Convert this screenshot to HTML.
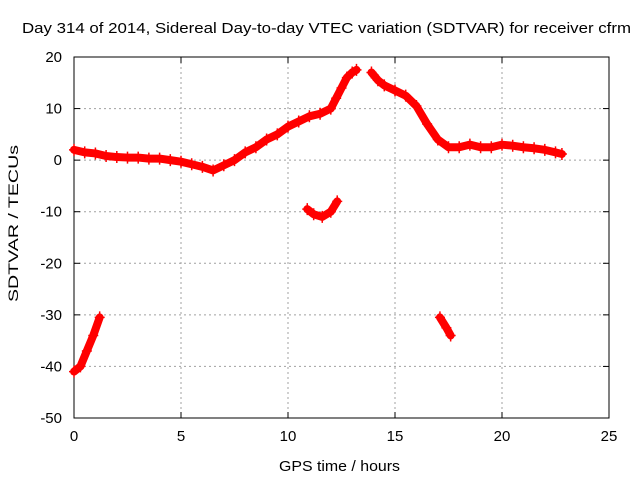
<!DOCTYPE html>
<html><head><meta charset="utf-8"><style>
body{margin:0;background:#fff}
text{font-family:"Liberation Sans",sans-serif;font-size:15px;fill:#000}
</style></head><body>
<svg id="chart" width="640" height="480" viewBox="0 0 640 480">
<rect width="640" height="480" fill="#fff"/>
<text x="22" y="33" textLength="609" lengthAdjust="spacingAndGlyphs">Day 314 of 2014, Sidereal Day-to-day VTEC variation (SDTVAR) for receiver cfrm</text>
<g id="grid"></g>
<g id="axes"></g>
<g id="series"></g>
<text x="279" y="471" textLength="121" lengthAdjust="spacingAndGlyphs">GPS time / hours</text>
<text style="font-size:14px" transform="translate(18,302) rotate(-90)" textLength="157" lengthAdjust="spacingAndGlyphs">SDTVAR / TECUs</text>
</svg>
<script>
const xTicks=[0,5,10,15,20,25];
const yTicks=[20,10,0,-10,-20,-30,-40,-50];
const mainHours=[0,0.5,1,1.5,2,2.5,3,3.5,4,4.5,5,5.5,6,6.5,7,7.5,8,8.5,9,9.5,10,10.5,11,11.5,12,12.25,12.5,12.75,13,13.2];
const mainValues=[2,1.5,1.3,0.8,0.6,0.5,0.5,0.3,0.3,0,-0.3,-0.8,-1.3,-2,-1,0,1.5,2.5,4,5,6.5,7.5,8.5,9,10,12,14,16,17,17.5];
const lateHours=[13.9,14.2,14.5,15,15.5,16,16.5,17,17.5,18,18.5,19,19.5,20,20.5,21,21.5,22,22.5,22.8];
const lateValues=[17,15.5,14.5,13.5,12.5,10.5,7,4,2.5,2.5,3,2.5,2.5,3,2.8,2.5,2.3,2,1.5,1.2];
const midHours=[10.9,11.2,11.6,12,12.3];
const midValues=[-9.5,-10.5,-11,-10,-8];
const earlyHours=[0,0.3,0.6,0.9,1.2];
const earlyValues=[-41,-40,-37,-34,-30.5];
const dipHours=[17.1,17.4,17.6];
const dipValues=[-30.5,-32.5,-34];
const L=74,R=609,T=57,B=418;
const sx=h=>L+(h/25)*(R-L);
const sy=v=>T+(20-v)/70*(B-T);
const NS='http://www.w3.org/2000/svg';
function mk(tag,attrs,parent){const e=document.createElementNS(NS,tag);for(const k in attrs)e.setAttribute(k,attrs[k]);parent.appendChild(e);return e;}
const grid=document.getElementById('grid'),axes=document.getElementById('axes'),ser=document.getElementById('series');
xTicks.forEach(t=>{const x=sx(t);
 if(t>0&&t<25){const g=mk('line',{x1:x,x2:x,y1:T,y2:B,stroke:'#a0a0a0','stroke-dasharray':'2,3'},grid);
 
 }
 const tx=mk('text',{x:x,y:B+23,'text-anchor':'middle'},axes);tx.textContent=t;
 
 
 mk('line',{x1:x,x2:x,y1:B,y2:B-6,stroke:'#000'},axes);mk('line',{x1:x,x2:x,y1:T,y2:T+6,stroke:'#000'},axes);});
yTicks.forEach(t=>{const y=sy(t);
 if(t<20&&t>-50){const g=mk('line',{x1:L,x2:R,y1:y,y2:y,stroke:'#a0a0a0','stroke-dasharray':'2,3'},grid);
 
 }
 const tx=mk('text',{x:L-12,y:y+5,'text-anchor':'end'},axes);tx.textContent=t;
 
 
 mk('line',{x1:L,x2:L+6,y1:y,y2:y,stroke:'#000'},axes);mk('line',{x1:R,x2:R-6,y1:y,y2:y,stroke:'#000'},axes);});
const frame=mk('rect',{x:L,y:T,width:R-L,height:B-T,fill:'none',stroke:'#000'},axes);


function drawSeg(hs,vs,name){
 const pts=hs.map((h,i)=>sx(h)+','+sy(vs[i])).join(' ');
 const pl=mk('polyline',{points:pts,fill:'none',stroke:'#f00','stroke-width':8,'stroke-linejoin':'round','stroke-linecap':'round'},ser);
 
 
 hs.forEach((h,i)=>{const x=sx(h),y=sy(vs[i]);
  mk('path',{d:`M${x-5},${y}H${x+5}M${x},${y-6}V${y+6}`,stroke:'#f00','stroke-width':1.5},ser);});
}
drawSeg(mainHours,mainValues,'sdtvar-main-series');
drawSeg(lateHours,lateValues,'sdtvar-late-series');
drawSeg(midHours,midValues,'sdtvar-mid-series');
drawSeg(earlyHours,earlyValues,'sdtvar-early-series');
drawSeg(dipHours,dipValues,'sdtvar-dip-series');
</script>
</body></html>
